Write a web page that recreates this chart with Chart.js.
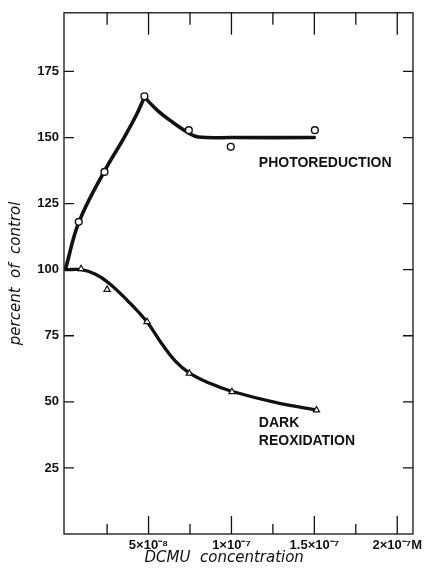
<!DOCTYPE html>
<html><head><meta charset="utf-8">
<script src="https://cdn.jsdelivr.net/npm/chart.js@4/dist/chart.umd.min.js"></script>
<style>html,body{margin:0;padding:0;background:#fff}</style>
</head><body>
<canvas id="c" width="436" height="571"></canvas>
<script>
// DCMU concentration in units of 1e-8 M
const photoPointX = [0.79, 2.34, 4.75, 7.43, 9.96, 15.03];
const photoPointY = [118.1, 137.0, 165.6, 152.8, 146.5, 152.8];
const darkPointX  = [0.93, 2.5, 4.91, 7.46, 10.03, 15.13];
const darkPointY  = [100.3, 92.5, 80.3, 60.8, 53.8, 46.9];

// hand-drawn fitted curves
const photoRiseX = [0, 0.8, 2.34, 3.5, 4.3, 4.75];
const photoRiseY = [100.5, 118, 137.3, 149.7, 159, 165.3];
const photoFallX = [4.75, 5.5, 6.3, 7.4, 8.0, 10, 15];
const photoFallY = [165.3, 160.5, 156.5, 151.8, 150.2, 150, 150];
const darkCurveX = [0, 0.93, 1.8, 2.6, 3.7, 4.9, 5.8, 6.6, 7.45, 8.7, 10, 12.9, 15.1];
const darkCurveY = [100, 100, 98.3, 95, 88.5, 80.3, 72, 65.5, 61, 57, 54, 49.4, 47];

const yTickValues = [25, 50, 75, 100, 125, 150, 175];
const xMajorTicks = [5, 10, 15, 20];
const xMinorTicks = [2.5, 7.5, 12.5, 17.5];
const xTickLabels = ['5×10⁻⁸', '1×10⁻⁷', '1.5×10⁻⁷', '2×10⁻⁷M'];

const seriesLabels = [
  {text: 'PHOTOREDUCTION', x: 11.65, y: 140.3},
  {text: 'DARK', x: 11.65, y: 42.0},
  {text: 'REOXIDATION', x: 11.65, y: 35.2}
];

const pts = (xs, ys) => xs.map((x, i) => ({x, y: ys[i]}));

const framePlugin = {
  id: 'frame',
  beforeDatasetsDraw(chart) {
    const {ctx, chartArea: a, scales: {x, y}} = chart;
    ctx.save();
    ctx.strokeStyle = '#111';
    ctx.lineWidth = 1.3;
    ctx.strokeRect(a.left, a.top, a.right - a.left, a.bottom - a.top);
    ctx.beginPath();
    yTickValues.forEach(v => {
      const py = y.getPixelForValue(v);
      ctx.moveTo(a.left, py); ctx.lineTo(a.left + 10, py);
      ctx.moveTo(a.right, py); ctx.lineTo(a.right - 10, py);
    });
    xMajorTicks.forEach(v => {
      const px = x.getPixelForValue(v);
      ctx.moveTo(px, a.bottom); ctx.lineTo(px, a.bottom - 18);
      ctx.moveTo(px, a.top); ctx.lineTo(px, a.top + 22);
    });
    xMinorTicks.forEach(v => {
      const px = x.getPixelForValue(v);
      ctx.moveTo(px, a.bottom); ctx.lineTo(px, a.bottom - 10);
      ctx.moveTo(px, a.top); ctx.lineTo(px, a.top + 12);
    });
    ctx.stroke();
    ctx.restore();
  },
  afterDraw(chart) {
    const {ctx, scales: {x, y}} = chart;
    ctx.save();
    ctx.fillStyle = '#111';
    ctx.font = 'bold 14px "Liberation Sans", Arial, sans-serif';
    ctx.textAlign = 'left';
    ctx.textBaseline = 'middle';
    seriesLabels.forEach(l => ctx.fillText(l.text, x.getPixelForValue(l.x), y.getPixelForValue(l.y)));
    ctx.restore();
  }
};

const curveStyle = {showLine: true, pointRadius: 0, borderColor: '#111', borderWidth: 3.6,
  tension: 0.4, fill: false, borderCapStyle: 'round', borderJoinStyle: 'round'};

new Chart(document.getElementById('c'), {
  type: 'scatter',
  data: {
    datasets: [
      {label: 'photo points', data: pts(photoPointX, photoPointY), showLine: false, pointStyle: 'circle',
       pointRadius: 3.4, pointBorderWidth: 1.4, pointBorderColor: '#111', pointBackgroundColor: '#fff'},
      {label: 'dark points', data: pts(darkPointX, darkPointY), showLine: false, pointStyle: 'triangle',
       pointRadius: 3.6, pointBorderWidth: 1.2, pointBorderColor: '#111', pointBackgroundColor: '#fff'},
      Object.assign({label: 'photo rise', data: pts(photoRiseX, photoRiseY)}, curveStyle),
      Object.assign({label: 'photo fall', data: pts(photoFallX, photoFallY)}, curveStyle),
      Object.assign({label: 'dark curve', data: pts(darkCurveX, darkCurveY)}, curveStyle, {borderWidth: 3.3})
    ]
  },
  options: {
    responsive: false,
    animation: false,
    devicePixelRatio: 1,
    layout: {padding: {top: 12, right: 23, bottom: 0, left: 0}},
    plugins: {legend: {display: false}, tooltip: {enabled: false}},
    scales: {
      x: {
        type: 'linear', min: -0.1, max: 20.95,
        afterBuildTicks: s => { s.ticks = xMajorTicks.map(v => ({value: v})); },
        afterFit: s => { s.height = 37; },
        grid: {display: false, drawTicks: false},
        border: {display: false},
        ticks: {
          color: '#111', padding: 4, maxRotation: 0, autoSkip: false,
          font: {family: '"Liberation Sans", Arial, sans-serif', size: 13, weight: 'bold'},
          callback: v => { const i = xMajorTicks.indexOf(v); return i >= 0 ? xTickLabels[i] : ''; }
        },
        title: {display: true, text: 'DCMU  concentration      ', color: '#111',
          padding: {top: 0, bottom: 4},
          font: {family: '"DejaVu Sans", sans-serif', size: 15, style: 'italic'}}
      },
      y: {
        type: 'linear', min: 0, max: 197.2,
        afterBuildTicks: s => { s.ticks = yTickValues.map(v => ({value: v})); },
        afterFit: s => { s.width = 64; },
        grid: {display: false, drawTicks: false},
        border: {display: false},
        ticks: {
          color: '#111', padding: 5,
          font: {family: '"Liberation Sans", Arial, sans-serif', size: 13, weight: 'bold'},
          callback: v => String(v)
        },
        title: {display: true, text: 'percent  of  control', color: '#111',
          padding: {top: 7, bottom: 0},
          font: {family: '"DejaVu Sans", sans-serif', size: 15, style: 'italic'}}
      }
    }
  },
  plugins: [framePlugin]
});
</script>
</body></html>
